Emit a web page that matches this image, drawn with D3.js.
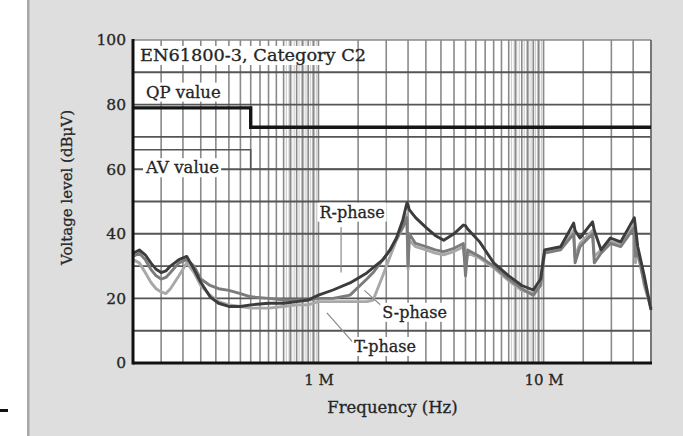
<!DOCTYPE html>
<html>
<head>
<meta charset="utf-8">
<script src="https://cdn.jsdelivr.net/npm/d3@7"></script>
<style>
  body { margin: 0; background: #fff; }
  text { font-family: "DejaVu Serif", "Liberation Serif", serif; fill: #252525; }
</style>
</head>
<body>
<svg></svg>
<script>
// Frequencies in MHz, levels in dBuV
const freq = [0.15, 0.16, 0.17, 0.18, 0.19, 0.2, 0.21, 0.22, 0.24, 0.26, 0.28, 0.3, 0.33, 0.36, 0.4, 0.45, 0.5,
  0.6, 0.7, 0.8, 0.9, 1.0, 1.16, 1.38, 1.64, 1.75, 1.93, 2.08, 2.22, 2.37, 2.47, 2.5, 2.53, 2.7, 3.0, 3.3, 3.6,
  4.0, 4.4, 4.5, 4.6, 5.2, 6, 7, 8, 9, 9.7, 10.1, 11.9, 13.6, 13.8, 14.5, 16.5, 16.8, 18, 19.8, 22, 25.3, 25.6,
  26.2, 28, 30];
const rPhase = [34, 35, 33.5, 31, 29, 28, 28.5, 30, 32, 33, 29, 25, 20.5, 18.5, 17.5, 17.5, 18,
  18.5, 18.5, 19, 19.5, 21, 22.6, 24.8, 27.9, 29.5, 31.9, 35, 38.7, 44.3, 49.5, 49, 47.5, 45, 42, 39.5, 38,
  40, 42.7, 42.5, 41.5, 37.5, 31, 27, 24, 22.6, 26, 35, 36, 43.3, 41, 38.7, 43.7, 41, 35, 38.7, 37.5, 45, 42,
  36, 27, 16.4];
const sPhase = [33, 34, 32, 29, 27, 26, 26.5, 28, 31, 32, 30, 26, 24, 23, 22.5, 21.5, 20.5,
  20, 19.5, 19.5, 19.5, 20, 20, 21, 26, 28, 32, 35, 38.5, 42, 45, 30, 40, 37, 36, 35, 34.5,
  35.5, 37, 27, 35, 33, 30, 26, 23, 21, 24, 34, 35, 40, 31, 36, 40, 31, 34, 37, 36, 42, 33,
  34, 25, 17];
const tPhase = [32, 31, 28, 25, 23, 22, 21.5, 23, 27, 31, 28, 24, 21, 19, 18, 17.5, 17,
  17, 17.5, 18, 18, 19, 19, 19, 19, 19.5, 27, 33, 38, 42, 46, 29, 38, 36, 35, 34, 33.5,
  34.5, 36, 30, 34, 32.5, 29.5, 25.5, 22.5, 21.5, 25, 34.5, 35.5, 41, 33, 37, 41, 33, 35, 37.5, 37, 43, 31,
  35, 24, 17];

// Limit lines (EN61800-3, C2)
const limitFreq = [0.15, 0.5, 0.5, 30];
const qpLimit = [79, 79, 73, 73];
const avLimit = [66, 66, 60, 60];

// Ticks and grid
const yTicks = [0, 20, 40, 60, 80, 100];
const yGrid = [10, 20, 30, 40, 50, 60, 70, 80, 90];
const xTicks = [1, 10];
const xTickLabels = ["1 M", "10 M"];
const gridMantissa = [1, 1.5, 2, 2.5, 3, 3.5, 4, 4.5, 5, 5.5, 6, 6.5, 7, 7.5, 8, 8.5, 9, 9.5];
const fineMantissa = [7.2, 7.4, 7.6, 7.8, 8.2, 8.4, 8.6, 8.8, 9.2, 9.4, 9.6, 9.8];
const decades = [0.1, 1, 10];

// Annotation labels: text, position (freq, level) and leader lines
const phaseLabels = ["R-phase", "S-phase", "T-phase"];
const labelFreq = [1.01, 1.92, 1.44];
const labelLevel = [45, 14, 3.4];
const leaderFrom = [[1.26, 42], [1.92, 17.5], [1.43, 6.2]];
const leaderTo = [[1.26, 28], [1.6, 22.5], [1.09, 15.5]];

const svgWidth = 683, svgHeight = 436;
const margin = { top: 40, right: 32, bottom: 73, left: 133 };
const w = svgWidth - margin.left - margin.right;
const h = svgHeight - margin.top - margin.bottom;

const root = d3.select("svg").attr("width", svgWidth).attr("height", svgHeight);

// gray panel
root.append("rect").attr("x", 29).attr("y", 0).attr("width", svgWidth - 29).attr("height", svgHeight)
  .attr("fill", "#dedede");
root.append("rect").attr("x", 27).attr("y", 0).attr("width", 2.5).attr("height", svgHeight)
  .attr("fill", "#a8a8a8");
root.append("rect").attr("x", 0).attr("y", 409).attr("width", 8).attr("height", 3).attr("fill", "#111");

const svg = root.append("g").attr("transform", `translate(${margin.left}, ${margin.top})`);

const x = d3.scaleLog().domain([0.15, 30]).range([0, w]);
const y = d3.scaleLinear().domain([0, 100]).range([h, 0]);

svg.append("rect").attr("width", w).attr("height", h).attr("fill", "#fff");

// vertical grid
const fine = [];
decades.forEach(d => fineMantissa.forEach(m => { const f = m * d; if (f > 0.15 && f < 30) fine.push(f); }));
svg.selectAll(".vfine").data(fine).enter().append("line")
  .attr("x1", d => x(d)).attr("x2", d => x(d)).attr("y1", 0).attr("y2", h)
  .attr("stroke", "#cfcfcf").attr("stroke-width", 1.2);

const vgrid = [];
decades.forEach(d => gridMantissa.forEach(m => { const f = m * d; if (f > 0.15 && f < 30) vgrid.push(f); }));
svg.selectAll(".vgrid").data(vgrid).enter().append("line")
  .attr("x1", d => x(d)).attr("x2", d => x(d)).attr("y1", 0).attr("y2", h)
  .attr("stroke", "#8a8a8a").attr("stroke-width", 1.6);

// horizontal grid
svg.selectAll(".hgrid").data(yGrid).enter().append("line")
  .attr("x1", 0).attr("x2", w).attr("y1", d => y(d)).attr("y2", d => y(d))
  .attr("stroke", "#555").attr("stroke-width", 1.9);

// frame
svg.append("line").attr("x1", 0).attr("x2", w).attr("y1", 0).attr("y2", 0)
  .attr("stroke", "#8a8a8a").attr("stroke-width", 1.5);
svg.append("line").attr("x1", w).attr("x2", w).attr("y1", 0).attr("y2", h)
  .attr("stroke", "#6a6a6a").attr("stroke-width", 1.8);

// limit lines
const limLine = d3.line().x(d => x(d[0])).y(d => y(d[1]));
svg.append("path").datum(d3.zip(limitFreq, avLimit)).attr("d", limLine)
  .attr("fill", "none").attr("stroke", "#555").attr("stroke-width", 1.6);
svg.append("path").datum(d3.zip(limitFreq, qpLimit)).attr("d", limLine)
  .attr("fill", "none").attr("stroke", "#151515").attr("stroke-width", 3.4);

// labels with white backing
function boxedText(tx, ty, str, size) {
  const g = svg.append("g");
  const bg = g.append("rect").attr("fill", "#fff");
  const t = g.append("text").attr("x", tx).attr("y", ty).attr("font-size", size)
    .attr("stroke", "#252525").attr("stroke-width", 0.3).text(str);
  const b = t.node().getBBox();
  bg.attr("x", b.x - 2).attr("y", b.y).attr("width", b.width + 4).attr("height", b.height);
  return g;
}
boxedText(7, 21, "EN61800-3, Category C2", 16.5).select("text")
  .attr("textLength", 226).attr("lengthAdjust", "spacingAndGlyphs");
boxedText(13, y(80) - 7, "QP value", 16.5);
boxedText(13, y(60) + 4, "AV value", 16.5);

// spectra
const specLine = d3.line().x(d => x(d[0])).y(d => y(d[1]));
const series = [
  { vals: tPhase, color: "#a8a8a8" },
  { vals: sPhase, color: "#7c7c7c" },
  { vals: rPhase, color: "#3c3c3c" }
];
series.forEach(s => {
  svg.append("path").datum(d3.zip(freq, s.vals)).attr("d", specLine)
    .attr("fill", "none").attr("stroke", s.color).attr("stroke-width", 2.9)
    .attr("stroke-linejoin", "round");
});

// phase labels and leaders
phaseLabels.forEach((lab, i) => {
  svg.append("line")
    .attr("x1", x(leaderFrom[i][0])).attr("y1", y(leaderFrom[i][1]))
    .attr("x2", x(leaderTo[i][0])).attr("y2", y(leaderTo[i][1]))
    .attr("stroke", "#888").attr("stroke-width", 1.2);
  boxedText(x(labelFreq[i]), y(labelLevel[i]), lab, 16);
});

// axes
const yAxis = d3.axisLeft(y).tickValues(yTicks).tickSize(0).tickPadding(7);
const gy = svg.append("g").call(yAxis);
gy.select(".domain").remove();
gy.selectAll("text").attr("font-size", 15.5).attr("font-family", "DejaVu Serif").attr("fill", "#2a2a2a")
  .attr("stroke", "#2a2a2a").attr("stroke-width", 0.3);

const xAxis = d3.axisBottom(x).tickValues(xTicks).tickSize(0).tickPadding(11)
  .tickFormat((d, i) => xTickLabels[i]);
const gx = svg.append("g").attr("transform", `translate(0, ${h})`).call(xAxis);
gx.select(".domain").remove();
gx.selectAll("text").attr("font-size", 15).attr("font-family", "DejaVu Serif").attr("fill", "#2a2a2a")
  .attr("stroke", "#2a2a2a").attr("stroke-width", 0.3);

svg.append("line").attr("x1", 0).attr("x2", 0).attr("y1", -1).attr("y2", h + 1.5)
  .attr("stroke", "#111").attr("stroke-width", 3);
svg.append("line").attr("x1", 0).attr("x2", w + 1).attr("y1", h).attr("y2", h)
  .attr("stroke", "#111").attr("stroke-width", 3);

// axis titles
svg.append("text").attr("x", x(1) + 74).attr("y", h + 50).attr("text-anchor", "middle")
  .attr("font-size", 16.5).attr("stroke", "#252525").attr("stroke-width", 0.3).text("Frequency (Hz)");
svg.append("text").attr("transform", `translate(-61, ${h / 2 - 14}) rotate(-90)`)
  .attr("text-anchor", "middle").attr("font-size", 15)
  .attr("stroke", "#252525").attr("stroke-width", 0.3).text("Voltage level (dBμV)");
</script>
</body>
</html>
